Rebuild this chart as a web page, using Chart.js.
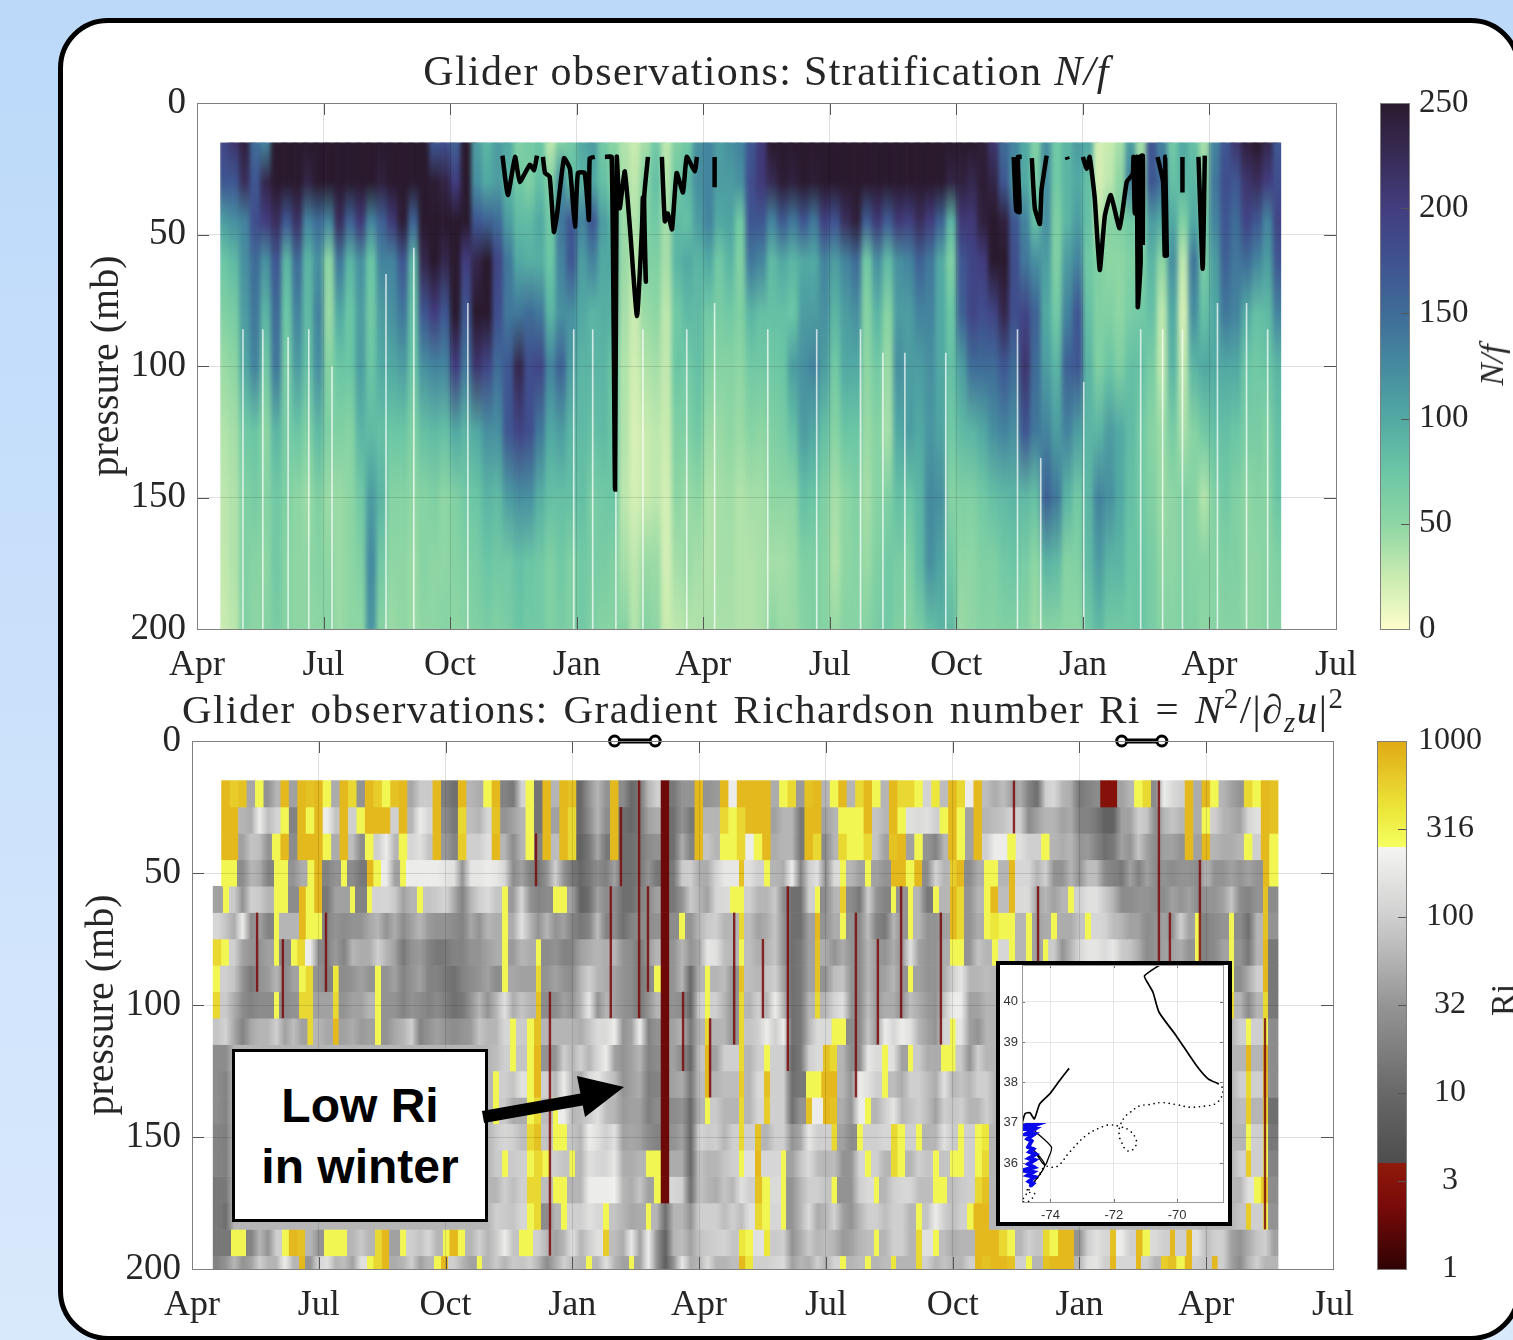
<!DOCTYPE html>
<html>
<head>
<meta charset="utf-8">
<style>
html,body{margin:0;padding:0;width:1513px;height:1340px;overflow:hidden;background:linear-gradient(#bcd9fa,#d9e9fc);}
#card{position:absolute;left:58px;top:18px;width:1453px;height:1313px;background:#fff;border:5px solid #000;border-radius:50px;}
canvas{position:absolute;}
.title{position:absolute;font-family:"Liberation Serif",serif;color:#262626;white-space:nowrap;text-align:center;}
.title i{font-style:italic;}
.title sup,.title sub{font-size:70%;line-height:0;}
.side{position:absolute;font-family:"Liberation Serif",serif;color:#262626;font-size:34px;transform:translate(-50%,-50%) rotate(-90deg);white-space:nowrap;}
#callout{position:absolute;left:232px;top:1049px;width:250px;height:167px;background:#fff;border:3px solid #000;font:bold 48px/61px "Liberation Sans",sans-serif;color:#000;text-align:center;display:flex;flex-direction:column;justify-content:center;}
#inset{position:absolute;left:996px;top:961px;width:228px;height:257px;background:#fff;border:4px solid #000;}
#arrow{position:absolute;left:0;top:0;}
</style>
</head>
<body>
<div id="card"></div>
<canvas id="nfChart" width="1300" height="632" style="left:80px;top:63px"></canvas>
<canvas id="nfBar" width="143" height="606" style="left:1370px;top:63px"></canvas>
<canvas id="riChart" width="1300" height="635" style="left:75px;top:701px"></canvas>
<canvas id="riBar" width="137" height="608" style="left:1376px;top:701px"></canvas>
<div class="title" style="left:423px;top:47px;width:687px;font-size:42px;line-height:48px;letter-spacing:1.36px">Glider observations: Stratification <i>N/f</i></div>
<div class="title" style="left:182px;top:685px;width:1160px;font-size:41px;line-height:48px;letter-spacing:1.5px;word-spacing:3px">Glider observations: Gradient Richardson number Ri = <i>N</i><sup>2</sup>/|∂<sub><i>z</i></sub><i>u</i>|<sup>2</sup></div>
<div class="side" style="left:1492px;top:365px;font-style:italic">N/f</div>
<div class="side" style="left:1503px;top:1000px">Ri</div>
<div id="callout"><div>Low Ri</div><div>in winter</div></div>
<svg id="arrow" width="1513" height="1340">
<line x1="483" y1="1117" x2="590" y2="1098" stroke="#000" stroke-width="12"/>
<polygon points="624,1087 585,1117 577,1076" fill="#000"/>
</svg>
<div id="inset"><canvas id="mapChart" width="228" height="271" style="left:0;top:-12px"></canvas></div>
<script src="https://cdn.jsdelivr.net/npm/chart.js"></script>
<script>
const monthLabels = ["Apr","Jul","Oct","Jan","Apr","Jul","Oct","Jan","Apr","Jul"];

// N/f, one line per time column, values at nfLevels
const nfLevels = [15,30,45,60,80,100,125,150,175,200];
const nfMonths = [0.625,0.875,1.125,1.375,1.625,1.875,2.125,2.375,2.625,2.875,3.125,3.375,3.625,3.875,4.125,4.375,4.625,4.875,5.125,5.375,5.625,5.875,6.125,6.375,6.625,6.875,7.125,7.375,7.625,7.875,8.125,8.375,8.625,8.875,9.125,9.375,9.625,9.875,10.125,10.375,10.625,10.875,11.125,11.375,11.625,11.875,12.125,12.375,12.625,12.875,13.125,13.375,13.625,13.875,14.125,14.375,14.625,14.875,15.125,15.375,15.625,15.875,16.125,16.375,16.625,16.875,17.125,17.375,17.625,17.875,18.125,18.375,18.625,18.875,19.125,19.375,19.625,19.875,20.125,20.375,20.625,20.875,21.125,21.375,21.625,21.875,22.125,22.375,22.625,22.875,23.125,23.375,23.625,23.875,24.125,24.375,24.625,24.875,25.125,25.375,25.625];
const nfColumns = [
[190,170,110,75,60,45,35,30,28,25],[210,170,120,85,65,50,40,35,35,30],[240,220,130,120,110,100,70,60,60,60],[150,170,180,150,140,130,75,65,55,50],
[130,230,200,120,90,70,50,55,50,55],[250,250,220,170,150,140,90,70,70,65],[250,250,170,90,75,65,65,60,55,55],[250,250,215,150,130,110,75,50,50,50],
[250,235,130,90,85,80,60,45,50,50],[250,250,150,120,130,120,85,60,55,50],[250,250,130,50,45,55,60,45,50,55],[250,250,220,140,100,75,60,45,45,45],
[250,250,160,90,75,75,55,50,50,50],[250,250,205,120,110,110,90,70,60,50],[250,250,130,75,70,75,85,110,125,115],[250,240,160,130,110,100,80,90,70,55],
[250,250,205,130,120,100,75,55,50,45],[250,250,245,170,140,110,75,55,50,50],[250,250,160,90,80,75,60,50,45,45],[250,250,250,230,170,120,80,55,55,50],
[170,245,250,250,200,130,85,60,50,50],[180,235,250,230,170,130,80,50,50,55],[160,200,250,250,250,200,100,60,55,50],[250,250,250,200,170,140,90,70,60,55],
[110,120,170,230,250,210,100,75,65,60],[90,100,160,250,250,190,120,90,75,65],[110,110,150,190,180,150,120,85,70,60],[100,90,110,140,140,170,170,110,70,65],
[60,70,85,100,140,230,190,120,80,75],[70,60,85,95,150,180,180,120,75,70],[75,80,100,95,140,190,140,95,70,70],[30,60,70,75,90,130,100,80,60,60],
[60,120,140,130,120,160,110,80,70,65],[70,80,170,170,120,110,90,80,60,60],[100,90,130,110,100,90,85,80,70,70],[110,100,170,130,90,90,80,65,65,60],
[70,80,110,100,95,90,85,70,65,55],[55,60,90,100,95,75,75,75,60,55],[35,40,45,45,40,35,35,30,40,55],[25,30,35,30,25,22,18,20,30,35],
[40,55,60,60,45,35,25,25,45,55],[70,80,70,60,50,40,30,30,45,50],[30,35,40,40,30,28,25,20,20,25],[60,70,85,90,70,75,60,50,40,30],
[70,90,80,100,85,70,60,45,45,35],[120,120,110,90,85,80,70,50,40,35],[130,130,130,100,70,60,45,35,35,38],[110,110,100,70,65,55,45,40,40,38],
[120,110,105,90,70,55,50,42,40,38],[130,120,70,60,60,50,45,35,35,35],[170,180,170,140,90,70,55,40,35,35],[205,205,170,130,80,70,50,40,38,38],
[250,225,130,85,80,70,60,50,40,50],[250,245,165,100,80,75,65,50,40,45],[250,240,140,90,75,110,80,50,45,45],[250,250,170,100,110,120,110,80,60,55],
[250,245,140,100,110,130,100,75,60,60],[250,250,195,130,120,110,80,60,55,55],[250,250,175,110,90,70,55,40,35,45],[250,250,220,130,110,100,75,50,50,55],
[250,250,240,150,120,100,75,60,55,55],[250,250,165,70,55,50,45,40,45,55],[250,250,205,120,90,70,55,55,60,65],[250,250,165,85,55,45,40,60,70,70],
[250,250,205,120,110,120,100,80,65,60],[250,250,195,130,110,110,110,75,60,55],[250,250,220,160,130,110,100,90,85,65],[250,250,200,140,130,120,115,125,120,80],
[250,250,160,100,100,100,105,120,105,90],[250,235,90,60,75,80,70,55,70,85],[250,240,205,170,160,110,85,60,50,45],[250,230,205,190,190,150,90,60,50,50],
[245,245,240,200,180,150,100,70,60,55],[210,235,250,250,190,150,120,80,60,55],[150,170,240,250,230,170,130,85,70,60],[130,120,170,180,180,150,120,90,75,60],
[100,100,130,140,190,210,170,85,65,55],[60,65,80,120,160,150,140,80,50,45],[120,120,120,110,100,110,130,160,90,55],[70,70,60,60,70,90,110,140,85,55],
[90,90,90,110,130,160,130,90,55,50],[110,100,110,130,170,170,110,70,60,50],[100,80,80,70,80,90,90,90,85,70],[20,20,30,60,60,60,90,130,110,85],
[25,30,55,50,60,75,110,120,90,70],[40,50,60,50,50,60,100,100,90,70],[110,130,70,60,65,80,85,80,75,70],[40,50,55,60,70,80,70,70,75,75],
[170,170,110,90,80,65,55,60,65,65],[130,150,100,50,30,30,45,45,50,55],[70,80,100,120,100,90,65,50,50,55],[100,90,60,30,20,30,40,60,60,60],
[80,90,100,140,120,90,55,55,55,60],[40,50,70,65,80,100,70,35,55,50],[130,140,130,110,100,100,80,60,55,55],[170,180,170,160,140,100,80,70,60,55],
[210,170,150,140,130,100,75,60,60,55],[240,210,190,150,100,75,65,50,50,50],[250,220,170,130,80,70,65,55,50,50],[230,200,130,110,85,75,60,55,55,55],
[170,180,190,170,130,90,80,75,60,55]
];
// missing-data slits: month and the pressure they start from
const gapMonths = [1.09,1.56,2.16,2.65,3.2,4.48,5.14,6.42,8.93,9.38,9.93,10.57,11.61,12.27,13.53,14.69,15.73,16.26,16.78,17.75,19.45,20.0,21.02,22.37,22.89,23.36,24.19,24.88,25.38];
const gapTops = [86,86,89,86,100,65,55,76,86,86,146,86,86,76,86,86,86,95,95,95,86,135,106,86,86,86,76,76,86];
// mixed layer depth trace, null breaks the line
const mldMonths = [7.24,7.37,7.54,7.65,7.89,7.99,8.06,8.13,8.20,8.25,8.36,8.46,8.53,8.70,8.84,8.96,9.03,9.19,9.29,9.31,9.43,9.55,9.67,9.83,9.91,9.95,10.02,10.14,10.26,10.43,10.55,10.57,10.64,10.60,10.69,10.85,11.02,11.09,11.16,11.26,11.37,11.52,11.61,11.80,11.85,12.0,12.27,12.27,18.5,19.36,19.42,19.50,19.46,19.55,19.66,19.79,19.86,19.98,20.02,20.14,20.4,20.62,20.64,20.8,21.0,21.09,21.16,21.28,21.40,21.52,21.66,21.87,22.04,22.18,22.20,22.23,22.28,22.30,22.37,22.34,22.42,22.42,22.6,22.77,22.90,22.94,22.99,22.95,22.99,23.2,23.36,23.36,23.6,23.74,23.84,23.89];
const mldPress = [20,35,20.5,30,23.5,25.5,20,null,20.5,26.6,28,49,43,21,25,47,26.6,26.6,44.5,21,20.5,null,20.5,20.5,147,20.5,40,26,47,81,47,36,68,36,20.5,null,20.5,45,42,48,26.6,34,20.5,26,20.5,null,20.5,32,null,20.5,41,41.5,20.5,20.5,null,21,40,46,33,20,null,20.5,21.5,null,20.5,25,20.5,36,63.5,43,35,47.6,30,27,20.5,42,20.5,77.6,60,20.5,20,54,null,20.5,30,58,58,20.5,20.5,null,20.5,34,null,20.5,63,20];

// Ri, one line per time column, rows are the 10 mb bins from riEdges
const riEdges = [15,25,35,45,55,65,75,85,95,105,115,125,135,145,155,165,175,185,195,205];
const riMonths = [0.6,0.8,1.0,1.2,1.4,1.6,1.8,2.0,2.2,2.4,2.6,2.8,3.0,3.2,3.4,3.6,3.8,4.0,4.2,4.4,4.6,4.8,5.0,5.2,5.4,5.6,5.8,6.0,6.2,6.4,6.6,6.8,7.0,7.2,7.4,7.6,7.8,8.0,8.2,8.4,8.6,8.8,9.0,9.2,9.4,9.6,9.8,10.0,10.2,10.4,10.6,10.8,11.0,11.2,11.4,11.6,11.8,12.0,12.2,12.4,12.6,12.8,13.0,13.2,13.4,13.6,13.8,14.0,14.2,14.4,14.6,14.8,15.0,15.2,15.4,15.6,15.8,16.0,16.2,16.4,16.6,16.8,17.0,17.2,17.4,17.6,17.8,18.0,18.2,18.4,18.6,18.8,19.0,19.2,19.4,19.6,19.8,20.0,20.2,20.4,20.6,20.8,21.0,21.2,21.4,21.6,21.8,22.0,22.2,22.4,22.6,22.8,23.0,23.2,23.4,23.6,23.8,24.0,24.2,24.4,24.6,24.8,25.0,25.2,25.4,25.6];
const riColumns = [
[null,null,null,null,40,120,500,300,500,80,25,25,25,20,20,15,15,15,20],
[800,800,800,300,300,80,300,100,90,110,25,20,20,18,18,15,12,15,30],
[600,800,800,300,90,50,100,80,50,45,60,60,60,60,60,60,60,300,60],
[700,60,40,25,30,200,40,30,25,20,60,60,60,60,60,60,60,300,30],
[45,50,80,60,100,25,30,15,20,45,60,60,60,60,60,60,60,20,40],
[300,200,70,50,90,40,30,30,25,60,60,60,60,60,60,60,60,60,100],
[30,70,30,20,60,20,40,35,25,60,60,60,60,60,60,60,60,30,60],
[60,110,300,300,300,300,300,60,300,100,60,60,60,60,60,60,60,100,60],
[800,300,800,300,300,60,25,25,25,40,60,60,60,60,60,60,60,300,200],
[40,20,25,30,25,60,300,40,30,70,60,60,60,60,60,60,60,800,60],
[800,800,800,50,800,800,500,300,500,40,60,60,60,60,60,60,60,700,800],
[700,300,800,300,300,300,200,500,500,500,60,60,60,60,60,60,60,60,30],
[800,800,800,800,800,300,25,30,40,60,60,60,60,60,60,60,60,30,120],
[300,200,300,20,15,20,20,20,40,45,60,60,60,60,60,60,60,300,150],
[50,80,50,30,40,30,35,400,500,800,60,60,60,60,60,60,60,300,60],
[800,800,800,300,40,25,20,25,30,40,60,60,60,60,60,60,60,300,70],
[500,100,70,25,300,30,60,30,40,50,60,60,60,60,60,60,60,60,40],
[30,300,25,15,20,30,50,40,40,35,60,60,60,60,60,60,60,90,150],
[800,800,300,800,300,45,50,30,60,40,60,60,60,60,60,60,60,60,300],
[600,800,100,300,110,60,100,300,300,300,60,60,60,60,60,60,60,500,500],
[300,800,200,200,120,30,60,30,30,30,60,60,60,60,60,60,60,800,800],
[700,100,60,40,90,50,40,40,30,45,60,60,60,60,60,60,60,40,50],
[800,800,300,300,40,25,15,20,20,60,60,60,60,60,60,60,60,300,60],
[45,60,120,200,60,40,30,30,30,100,60,60,60,60,60,60,60,100,100],
[90,200,150,200,300,60,35,40,25,20,60,60,60,60,60,60,60,80,40],
[90,120,80,200,80,35,20,20,20,30,60,60,60,60,60,60,60,120,60],
[800,800,800,200,90,30,15,20,25,40,60,60,60,60,60,60,60,60,300],
[18,25,35,170,120,30,15,15,18,30,60,60,60,60,60,60,60,300,800],
[12,15,20,150,50,25,20,12,12,25,60,60,60,60,60,60,60,800,100],
[800,500,600,30,20,20,20,20,15,30,60,60,60,60,60,60,60,300,60],
[60,70,100,170,60,45,30,25,30,35,60,60,60,60,60,60,60,60,40],
[50,60,100,170,100,30,30,30,60,80,60,60,60,60,60,60,60,100,300],
[300,120,150,200,130,60,40,40,30,60,60,60,60,60,60,60,60,60,60],
[800,700,800,180,80,50,50,25,60,60,70,300,300,90,90,60,100,90,90],
[20,30,60,120,300,300,300,300,150,120,100,100,90,120,300,100,90,200,60],
[15,40,25,25,35,50,35,45,50,300,300,80,50,100,90,70,80,80,90],
[110,60,60,40,120,150,60,40,80,90,80,150,50,70,100,100,120,300,80],
[300,300,300,20,30,60,50,40,60,300,300,300,300,500,300,500,300,300,100],
[14,14,20,15,20,30,300,500,700,700,800,800,500,700,500,500,500,100,60],
[800,800,800,30,25,60,25,30,25,60,30,100,70,80,300,70,25,60,25],
[60,40,70,100,300,30,30,40,25,60,30,60,300,300,100,300,60,40,50],
[800,800,800,30,300,40,20,30,40,60,100,200,200,300,80,300,300,60,100],
[700,500,500,15,40,20,20,25,30,60,60,60,60,80,300,60,100,150,70],
[10,10,8,10,8,15,40,60,60,50,100,50,70,60,60,60,100,60,60],
[30,25,15,15,12,20,50,100,180,80,60,130,100,200,150,200,150,100,300],
[60,60,45,25,40,70,60,60,30,130,120,170,150,150,120,200,120,150,60],
[30,25,15,18,25,20,50,50,60,130,200,100,70,100,120,200,300,600,150],
[800,800,800,40,25,25,60,40,40,200,40,70,60,150,180,220,80,70,60],
[25,12,12,12,12,12,30,30,30,30,30,30,35,40,50,60,60,50,40],
[10,10,12,12,12,20,25,25,25,40,40,40,40,45,50,50,45,180,300],
[15,15,15,15,20,25,15,15,15,200,60,50,40,40,60,80,50,40,40],
[60,40,25,30,25,25,35,25,30,20,20,18,18,25,300,40,300,200,200],
[100,50,30,15,40,30,60,300,60,30,25,20,25,20,300,300,60,30,30],
[2,2,2,2,2,2,2,2,2,2,2,2,2,2,2,2,12,8,7],
[15,12,12,15,15,25,30,30,30,40,40,40,25,30,50,120,60,60,30],
[30,30,50,90,30,300,60,60,25,60,25,50,30,40,50,100,60,70,180],
[30,15,20,100,90,30,30,10,10,15,10,15,10,10,10,12,30,40,50],
[800,800,800,50,60,60,45,60,100,60,80,70,60,120,80,80,100,80,60],
[30,60,80,50,40,90,170,300,300,500,800,800,300,90,60,60,100,90,130],
[35,60,60,110,120,100,150,60,100,60,40,60,90,100,60,50,100,100,60],
[800,500,300,180,130,60,70,70,60,60,100,70,60,60,80,80,70,110,60],
[200,300,300,180,300,60,60,30,30,30,100,70,60,100,100,60,100,80,70],
[800,500,500,700,300,500,300,700,500,500,500,600,500,500,300,150,70,400,800],
[800,800,200,150,100,70,70,70,60,80,60,60,60,100,150,100,150,300,400],
[800,800,300,100,60,40,50,60,100,100,100,130,120,700,800,700,500,150,100],
[800,800,800,300,60,50,60,80,60,200,300,700,600,60,120,300,300,400,100],
[50,40,50,60,90,80,80,100,200,100,100,100,100,100,120,130,120,90,120],
[300,60,60,50,25,30,30,40,60,200,100,100,100,100,300,300,300,100,130],
[500,60,60,200,12,12,12,12,12,12,10,12,12,30,40,30,30,30,40],
[35,15,15,20,12,12,15,15,15,15,15,15,30,45,80,60,60,50,60],
[700,800,800,100,100,40,40,40,60,60,100,300,700,180,130,100,130,90,50],
[800,800,500,150,300,800,700,700,500,130,130,300,200,100,70,100,50,60,100],
[60,40,25,25,25,30,50,30,60,130,700,800,800,100,60,80,60,70,60],
[300,60,60,130,60,50,30,70,110,300,500,800,700,500,70,300,110,60,110],
[800,300,500,300,600,300,50,80,150,300,60,60,50,40,30,30,40,35,300],
[60,300,300,60,25,30,30,30,30,25,25,30,30,25,30,30,30,40,60],
[500,300,300,40,15,25,25,25,25,25,25,200,200,300,120,100,60,60,70],
[800,800,500,300,100,70,60,60,70,80,180,150,300,100,300,130,100,70,300],
[300,80,80,40,30,20,35,35,35,35,130,100,60,100,100,300,100,300,60],
[60,60,40,30,20,15,30,40,50,200,300,300,100,120,60,60,70,60,70],
[800,800,700,800,300,60,50,60,50,120,150,70,170,500,500,100,100,100,400],
[500,300,800,800,30,30,30,30,30,200,40,50,60,300,300,120,100,100,60],
[500,150,40,300,300,300,150,300,70,150,300,100,80,100,60,120,60,60,60],
[300,130,300,800,60,60,40,40,50,60,90,100,100,300,100,70,300,500,500],
[110,150,30,25,15,30,30,30,35,40,50,70,70,60,80,70,80,150,100],
[400,100,20,110,300,30,30,30,30,30,50,50,40,60,300,300,200,300,60],
[70,300,60,60,60,40,50,50,80,120,300,150,100,150,80,300,100,70,80],
[800,800,800,600,800,800,300,100,200,300,300,60,80,90,300,70,70,50,60],
[500,300,300,800,500,500,300,170,200,170,90,80,100,300,300,90,100,60,60],
[200,40,40,25,30,30,30,60,40,40,30,60,60,100,100,100,300,60,100],
[800,800,800,50,60,50,80,60,40,30,100,100,60,300,300,500,800,800,800],
[70,60,100,300,300,300,60,70,60,60,60,100,100,400,500,700,800,800,700],
[50,70,200,300,800,400,300,60,60,60,60,60,60,60,60,60,60,800,800],
[70,80,200,60,70,300,120,60,60,60,60,60,60,60,60,60,60,500,800],
[40,110,300,800,800,300,300,60,60,60,60,60,60,60,60,60,60,300,700],
[50,100,150,120,130,60,60,60,60,60,60,60,60,60,60,60,60,60,100],
[20,25,100,120,130,300,300,60,60,60,60,60,60,60,60,60,60,100,300],
[12,40,100,60,40,40,40,60,60,60,60,60,60,60,60,60,60,80,60],
[100,60,300,100,60,50,300,60,60,60,60,60,60,60,60,60,60,500,700],
[120,60,60,30,40,300,90,60,60,60,60,60,60,60,60,60,60,300,800],
[60,40,50,30,60,50,30,60,60,60,60,60,60,60,60,60,60,800,800],
[50,50,60,60,300,50,60,60,60,60,60,60,60,60,60,60,60,800,800],
[15,20,30,30,100,80,120,60,60,60,60,60,60,60,60,60,60,30,60],
[20,20,35,70,150,300,170,60,60,60,60,60,60,60,60,60,60,100,150],
[25,15,20,70,150,120,170,60,60,60,60,60,60,60,60,60,60,150,170],
[3,8,12,25,90,110,130,60,60,60,60,60,60,60,60,60,60,120,100],
[3,8,15,20,60,70,180,60,60,60,60,60,60,60,60,60,60,700,800],
[40,40,40,15,25,60,90,60,60,60,60,60,60,60,60,60,60,200,120],
[60,40,30,40,25,40,80,60,60,60,60,60,60,60,60,60,60,100,120],
[300,100,80,20,30,40,50,60,60,60,60,60,60,60,60,60,60,800,800],
[500,80,40,40,30,25,25,60,60,60,60,60,60,60,60,60,60,300,100],
[25,25,25,25,25,30,30,60,60,60,60,60,60,60,60,60,60,130,60],
[200,60,40,30,25,40,40,60,60,60,60,60,60,60,60,60,60,100,600],
[130,80,40,25,40,30,40,60,60,60,60,60,60,60,60,60,60,800,700],
[100,60,30,30,30,100,50,60,60,60,60,60,60,60,60,60,60,100,300],
[800,800,800,30,40,40,30,60,60,60,60,60,60,60,60,60,60,800,800],
[50,50,40,25,25,300,300,60,60,60,60,60,60,60,60,60,60,150,100],
[800,300,800,60,30,20,20,60,60,60,60,60,60,60,60,60,60,70,80],
[300,100,60,30,30,25,25,60,60,60,60,60,60,60,60,60,60,100,800],
[60,60,50,30,40,30,40,60,60,60,60,60,60,60,60,60,60,100,100],
[40,50,50,40,80,300,300,300,500,60,60,60,60,60,60,60,60,40,40],
[30,40,60,30,25,25,30,25,60,100,60,100,70,60,100,60,80,30,25],
[500,120,300,40,20,12,15,50,25,300,800,500,600,300,600,150,600,50,60],
[300,150,100,30,30,60,60,100,60,100,60,100,60,100,100,300,100,80,100],
[800,800,800,800,700,700,800,800,500,300,800,700,500,300,300,600,300,100,60],
[700,700,300,300,25,30,15,15,15,25,25,25,12,15,20,25,30,40,60]
];
// thin low-Ri streaks narrower than one column
const streakMonths = [1.54,2.15,3.17,8.14,8.47,9.91,10.15,10.58,10.79,11.62,12.26,12.83,13.51,14.1,15.71,16.23,16.78,17.72,19.45,20.02,22.88,23.14,23.85,25.39];
const streakFrom = [65,75,65,35,95,55,25,15,55,95,105,65,75,55,65,75,55,65,15,55,15,65,45,105];
const streakTo = [95,105,95,55,195,105,55,105,95,125,135,115,105,125,135,115,105,115,35,85,95,95,85,185];
const winterMonths = [10.0,10.96,16,22.0,22.95];
const winterPress = [0,0,null,0,0];

// colorbar ticks
const nfBarTicks = [0,50,100,150,200,250];
const riBarTicks = [1,3.16,10,31.6,100,316,1000];
const riBarLabels = ["1","3","10","32","100","316","1000"];

// glider tracks for the map inset
const trackLon = [-70.55,-71.03,-70.9,-70.76,-70.57,-70.03,-69.39,-69.02,-68.7];
const trackLat = [40.91,40.64,40.43,40.23,39.74,39.16,38.42,38.09,37.97];
const dotLon = [-68.7,-68.55,-68.6,-68.8,-69.09,-69.6,-70.0,-70.5,-70.9,-71.19,-71.5,-71.66,-71.82,-71.82,-71.76,-71.65,-71.5,-71.33,-71.29,-71.5,-71.82,-72.1,-72.34,-72.87,-73.39,-73.81,-74.18,-74.4,-74.55,-74.75,-74.9,-74.7,-74.5,-74.75,-74.55,-74.3];
const dotLat = [37.97,37.84,37.64,37.47,37.42,37.39,37.45,37.5,37.45,37.42,37.25,37.14,36.88,36.65,36.53,36.36,36.3,36.4,36.57,36.81,36.91,36.95,36.91,36.69,36.28,35.91,35.91,35.65,35.5,35.25,35.05,35.05,35.25,35.3,35.5,35.75];
const shelfLon = [-73.41,-73.71,-74.02,-74.34,-74.51,-74.65,-74.8,-74.9];
const shelfLat = [38.35,38.05,37.72,37.47,37.1,37.25,37.23,36.98];
const loopLon = [-74.5,-73.97,-74.07,-74.18,-74.5,-74.18,-74.5];
const loopLat = [36.8,36.4,36.12,35.95,36.3,35.95,35.55];
const blueLon = [-74.87,-74.47,-74.82,-74.5,-74.78,-74.52,-74.72,-74.6,-74.7,-74.55,-74.66,-74.47,-74.68,-74.5,-74.7,-74.52,-74.88,-74.55,-74.72,-74.5,-74.68,-74.55,-74.62];
const blueLat = [36.95,36.95,36.85,36.85,36.72,36.72,36.6,36.55,36.4,36.35,36.28,36.22,36.12,36.08,35.98,35.9,35.82,35.78,35.7,35.66,35.55,35.5,35.45];

// colormaps
const nfStops = ["#fdfecc","#c9ebb0","#8ed6a4","#6bc6a5","#52a9a3","#458a9f","#3f6c98","#3f5290","#423d7f","#382c55","#2a1a2e"];
const riStops = [[0,"#2f0303"],[0.12,"#7a0a0a"],[0.2,"#8e1a0a"],[0.2,"#4d4d4d"],[0.333,"#686868"],[0.5,"#959595"],[0.667,"#cfcfcf"],[0.8,"#f5f5f3"],[0.8,"#f5ff60"],[0.87,"#ece63a"],[1,"#e0aa14"]];

function hexRgb(h){return [1,3,5].map(i=>parseInt(h.substr(i,2),16));}
function mix(a,b,t){const p=hexRgb(a),q=hexRgb(b);return "rgb("+p.map((v,i)=>Math.round(v+(q[i]-v)*t)).join(",")+")";}
function nfColor(v){
    const s=Math.min(v,250)/25, i=Math.min(Math.floor(s),9);
    return mix(nfStops[i],nfStops[i+1],s-i);
}
function riColor(v){
    const f=Math.log10(v)/3;
    for(let i=0;i<riStops.length-1;i++){
        if(f<riStops[i+1][0]) return mix(riStops[i][1],riStops[i+1][1],(f-riStops[i][0])/(riStops[i+1][0]-riStops[i][0]));
    }
    return riStops[riStops.length-1][1];
}
const isGray = v => v>4 && v<251;
// grays blend into gray neighbours, yellow cells below the top bins are narrow stripes
function riFill(ctx, r){
    const ch=ctx.chart;
    if(!ch.chartArea||ctx.type!=="data") return "transparent";
    const i=ctx.dataIndex, v=riColumns[i][r];
    if(v===null) return "transparent";
    const self=riColor(v);
    const prev=i>0&&riColumns[i-1][r]!==null?riColumns[i-1][r]:v;
    const next=i<riColumns.length-1?riColumns[i+1][r]:v;
    const x=ch.scales.x, p=x.getPixelForValue(riMonths[i]), w=x.getPixelForValue(0.2)-x.getPixelForValue(0);
    const g=ch.ctx.createLinearGradient(p-w/2,0,p+w/2,0);
    if(isGray(v)){
        g.addColorStop(0,isGray(prev)?riColor(Math.sqrt(prev*v)):self);
        g.addColorStop(0.5,self);
        g.addColorStop(1,isGray(next)?riColor(Math.sqrt(next*v)):self);
    } else if(v>=251&&r>=3){
        const left=isGray(prev)?riColor(prev):self, right=isGray(next)?riColor(next):self;
        g.addColorStop(0,left);g.addColorStop(0.16,left);g.addColorStop(0.17,self);
        g.addColorStop(0.83,self);g.addColorStop(0.84,right);g.addColorStop(1,right);
    } else {
        return self;
    }
    return g;
}

const serif = "'Liberation Serif', serif";
const ink = "#262626";
const gridCol = "rgba(0,0,0,0.12)";
Chart.defaults.animation = false;
Chart.defaults.events = [];
Chart.defaults.plugins.legend.display = false;
Chart.defaults.plugins.tooltip.enabled = false;

// matlab style box with inward ticks
const frameTicks = {
    id: "frameTicks",
    afterDraw(chart, args, opts){
        const c = chart.ctx, a = chart.chartArea;
        c.save();
        c.lineWidth = 1;
        c.strokeStyle = opts.tickColor || "#555";
        const len = opts.len;
        const xs = chart.scales.x, ys = chart.scales.y;
        if(opts.xTicks){
            xs.ticks.forEach(t=>{
                const p = Math.round(xs.getPixelForValue(t.value))+0.5;
                if(p<=a.left+1||p>=a.right-1) return;
                c.beginPath();c.moveTo(p,a.top);c.lineTo(p,a.top+len);c.moveTo(p,a.bottom);c.lineTo(p,a.bottom-len);c.stroke();
            });
        }
        if(opts.yTicks){
            ys.ticks.forEach(t=>{
                const p = Math.round(ys.getPixelForValue(t.value))+0.5;
                if(p<=a.top+1||p>=a.bottom-1) return;
                c.beginPath();
                if(opts.yTicks!=="right"){c.moveTo(a.left,p);c.lineTo(a.left+len,p);}
                c.moveTo(a.right,p);c.lineTo(a.right-len,p);c.stroke();
            });
        }
        c.strokeStyle = opts.frame || "#7f7f7f";
        c.strokeRect(Math.round(a.left)+0.5,Math.round(a.top)+0.5,Math.round(a.width),Math.round(a.height));
        c.restore();
    }
};

// the glider section is interpolated in time: soften the columns while they are painted
const softColumns = {
    id: "softColumns",
    beforeDatasetDraw(chart, args){
        if(chart.data.datasets[args.index].label!=="N/f") return;
        const c=chart.ctx, x=chart.scales.x, y=chart.scales.y;
        const l=x.getPixelForValue(0.55), r=x.getPixelForValue(25.7), t=y.getPixelForValue(nfLevels[0]);
        c.save();
        c.beginPath();c.rect(l,t,r-l,y.getPixelForValue(200)-t);c.clip();
        c.translate(3,0);
        c.filter="blur(2px)";
    },
    afterDatasetDraw(chart, args){
        if(chart.data.datasets[args.index].label!=="N/f") return;
        chart.ctx.restore();
    }
};

function panelScales(yWidth, xHeight){
    return {
        x: {type:"linear",min:0,max:27,offset:false,
            grid:{color:gridCol,drawTicks:false,offset:false,z:1},border:{display:false},
            ticks:{stepSize:3,autoSkip:false,maxRotation:0,includeBounds:false,padding:15,color:ink,font:{family:serif,size:36},
                callback:v=>monthLabels[v/3]},
            afterFit:s=>{s.height=xHeight;}},
        y: {type:"linear",reverse:true,min:0,max:200,
            grid:{color:gridCol,drawTicks:false,z:1},border:{display:false},
            title:{display:true,text:"pressure (mb)",color:ink,font:{family:serif,size:40},padding:{top:3,bottom:0}},
            ticks:{stepSize:50,padding:11,color:ink,font:{family:serif,size:37}},
            afterFit:s=>{s.width=yWidth;}}
    };
}

new Chart(document.getElementById("nfChart"),{
    type:"bar",
    data:{datasets:[
        {type:"line",label:"mld",data:mldMonths.map((m,i)=>({x:m,y:mldPress[i]})),borderColor:"#000",borderWidth:4.5,pointRadius:0,tension:0.15,spanGaps:false,borderCapStyle:"butt"},
        {label:"gaps",grouped:false,barThickness:1.6,inflateAmount:0,backgroundColor:"rgba(255,255,255,0.72)",
            data:gapMonths.map((m,i)=>({x:m,y:[gapTops[i],200]}))},
        {label:"N/f",grouped:false,barThickness:10.6,inflateAmount:3,
            data:nfMonths.map(m=>({x:m,y:[nfLevels[0],nfLevels[nfLevels.length-1]]})),
            backgroundColor(ctx){
                const ch=ctx.chart;
                if(!ch.chartArea||ctx.dataIndex===undefined) return "transparent";
                const y=ch.scales.y, t=y.getPixelForValue(15), b=y.getPixelForValue(200);
                const g=ch.ctx.createLinearGradient(0,t,0,b);
                nfLevels.forEach((lev,k)=>g.addColorStop((lev-15)/185,nfColor(nfColumns[ctx.dataIndex][k])));
                return g;
            }}
    ]},
    options:{responsive:false,layout:{padding:{left:0,top:40,right:44,bottom:0}},
        scales:panelScales(117,66),
        plugins:{frameTicks:{len:12,xTicks:true,yTicks:true}}},
    plugins:[softColumns,frameTicks]
});

new Chart(document.getElementById("riChart"),{
    type:"bar",
    data:{datasets:[
        {type:"line",label:"winter",data:winterMonths.map((m,i)=>({x:m,y:winterPress[i]})),clip:false,borderColor:"#000",borderWidth:5,
            pointRadius:5,pointBorderWidth:3,pointBackgroundColor:"#fff",pointBorderColor:"#000",spanGaps:false},
        {label:"streaks",grouped:false,barThickness:2.4,inflateAmount:0,backgroundColor:"rgba(122,10,10,0.85)",
            data:streakMonths.map((m,i)=>({x:m,y:[streakFrom[i],streakTo[i]]}))},
        ...riEdges.slice(0,-1).map((top,r)=>({
            label:"row"+r,grouped:false,barThickness:8.5,inflateAmount:0.3,
            data:riColumns.map((col,i)=>({x:riMonths[i],y:col[r]===null?null:[top,riEdges[r+1]]})),
            backgroundColor:ctx=>riFill(ctx,r)
        }))
    ]},
    options:{responsive:false,layout:{padding:{left:0,top:40,right:42,bottom:0}},
        scales:panelScales(117,67),
        plugins:{frameTicks:{len:12,xTicks:true,yTicks:true}}},
    plugins:[frameTicks]
});

new Chart(document.getElementById("nfBar"),{
    type:"bar",
    data:{labels:[""],datasets:[{data:[[0,250]],barPercentage:1,categoryPercentage:1,inflateAmount:0,
        backgroundColor(ctx){
            const ch=ctx.chart;
            if(!ch.chartArea) return "transparent";
            const y=ch.scales.y, g=ch.ctx.createLinearGradient(0,y.getPixelForValue(0),0,y.getPixelForValue(250));
            nfStops.forEach((s,i)=>g.addColorStop(i/10,s));
            return g;
        }}]},
    options:{responsive:false,layout:{padding:{left:10,top:40,right:0,bottom:40}},
        scales:{
            x:{display:false},
            y:{position:"right",min:0,max:250,grid:{display:false,drawTicks:false},border:{display:false},
                afterBuildTicks:s=>{s.ticks=nfBarTicks.map(v=>({value:v}));},
                ticks:{padding:10,autoSkip:false,color:ink,font:{family:serif,size:33}},
                afterFit:s=>{s.width=104;}}},
        plugins:{frameTicks:{len:8,yTicks:"right"}}},
    plugins:[frameTicks]
});

new Chart(document.getElementById("riBar"),{
    type:"bar",
    data:{labels:[""],datasets:[{data:[[1,1000]],barPercentage:1,categoryPercentage:1,inflateAmount:0,
        backgroundColor(ctx){
            const ch=ctx.chart;
            if(!ch.chartArea) return "transparent";
            const y=ch.scales.y, g=ch.ctx.createLinearGradient(0,y.getPixelForValue(1),0,y.getPixelForValue(1000));
            riStops.forEach(s=>g.addColorStop(s[0],s[1]));
            return g;
        }}]},
    options:{responsive:false,layout:{padding:{left:1,top:40,right:0,bottom:40}},
        scales:{
            x:{display:false},
            y:{type:"logarithmic",position:"right",min:1,max:1000,grid:{display:false,drawTicks:false},border:{display:false},
                afterBuildTicks:s=>{s.ticks=riBarTicks.map(v=>({value:v}));},
                ticks:{padding:12,autoSkip:false,crossAlign:"center",color:ink,font:{family:serif,size:32},
                    callback:(v,i)=>riBarLabels[i]},
                afterFit:s=>{s.width=107;}}},
        plugins:{frameTicks:{len:8,yTicks:"right"}}},
    plugins:[frameTicks]
});

function pairs(lon,lat){return lon.map((v,i)=>({x:v,y:lat[i]}));}
new Chart(document.getElementById("mapChart"),{
    type:"scatter",
    data:{datasets:[
        {data:pairs(blueLon,blueLat),showLine:true,borderColor:"#0a0aeb",borderWidth:4,pointRadius:2,pointBackgroundColor:"#0a0aeb",pointBorderWidth:0,tension:0},
        {data:pairs(trackLon,trackLat),showLine:true,borderColor:"#000",borderWidth:1.7,pointRadius:0,tension:0.2},
        {data:pairs(shelfLon,shelfLat),showLine:true,borderColor:"#000",borderWidth:1.7,pointRadius:0,tension:0.2},
        {data:pairs(loopLon,loopLat),showLine:true,borderColor:"#000",borderWidth:1.3,pointRadius:0,tension:0.25},
        {data:pairs(dotLon,dotLat),showLine:true,borderColor:"#000",borderWidth:1.6,borderDash:[0.1,5],borderCapStyle:"round",pointRadius:0,tension:0.4}
    ]},
    options:{responsive:false,layout:{padding:{left:0,top:12,right:5,bottom:0}},
        scales:{
            x:{type:"linear",min:-74.9,max:-68.55,grid:{color:"rgba(0,0,0,0.09)",drawTicks:false},border:{display:false},
                ticks:{stepSize:2,includeBounds:false,padding:6,color:"#333",font:{family:"'Liberation Sans',sans-serif",size:13},
                    callback:v=>String(v)},
                afterFit:s=>{s.height=22;}},
            y:{type:"linear",min:35.04,max:40.91,grid:{color:"rgba(0,0,0,0.09)",drawTicks:false},border:{display:false},
                ticks:{stepSize:1,includeBounds:false,padding:4,color:"#333",font:{family:"'Liberation Sans',sans-serif",size:13},
                    callback:v=>String(v)},
                afterFit:s=>{s.width=22;}}},
        plugins:{frameTicks:{len:3,xTicks:true,yTicks:true,frame:"#9a9a9a",tickColor:"#777"}}},
    plugins:[frameTicks]
});
</script>
</body>
</html>
